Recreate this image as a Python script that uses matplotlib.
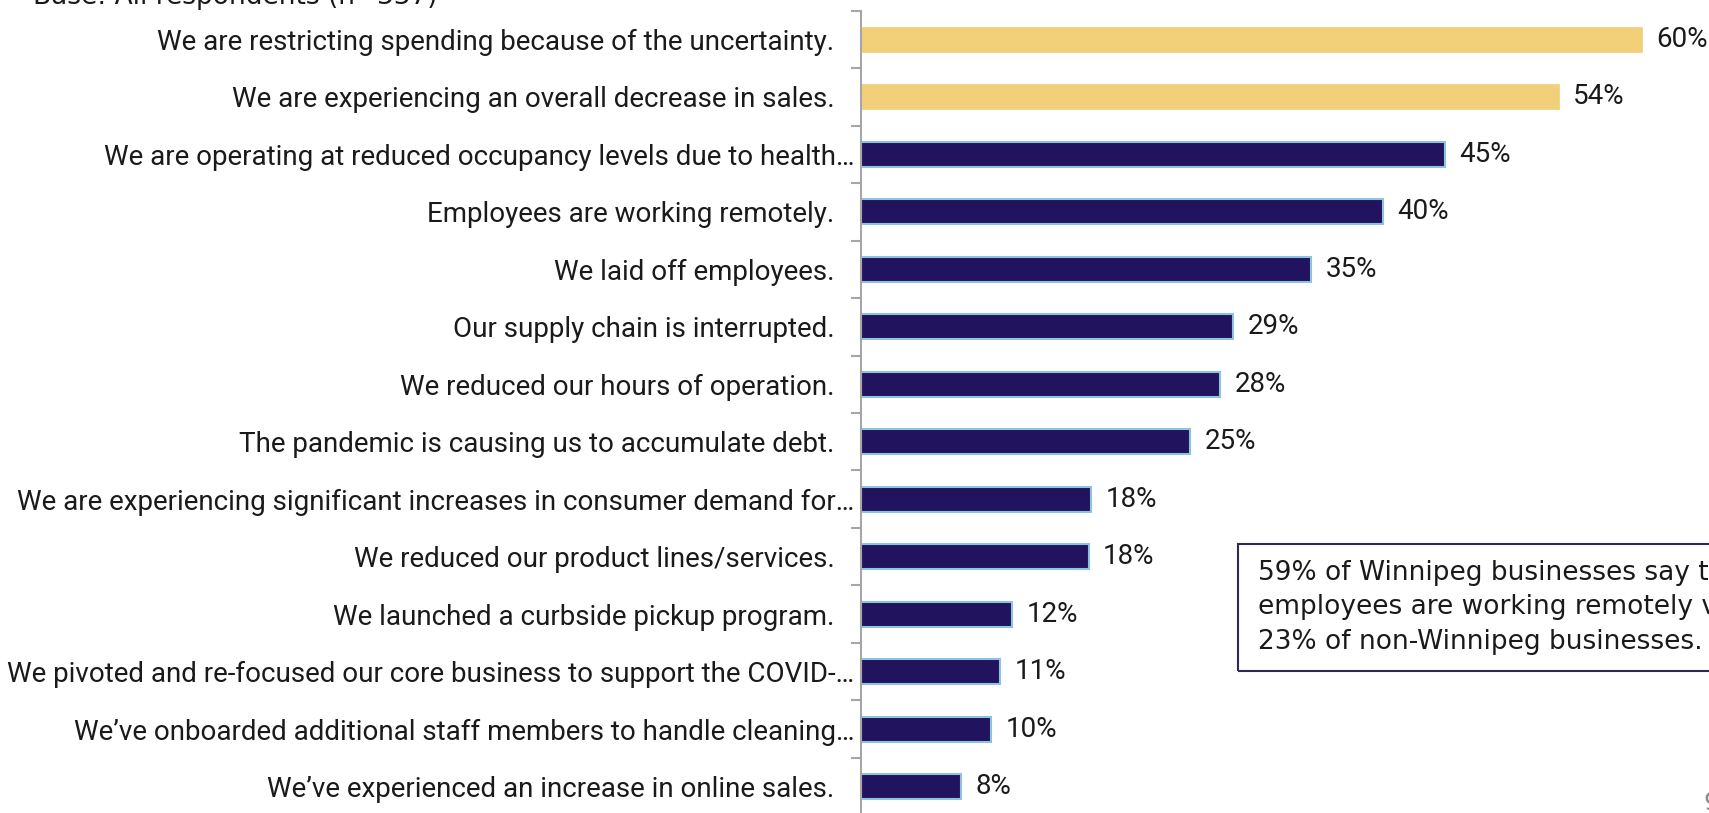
import matplotlib.pyplot as plt
from matplotlib.patches import Rectangle

# Data
labels = [
    'We are restricting spending because of the uncertainty.',
    'We are experiencing an overall decrease in sales.',
    'We are operating at reduced occupancy levels due to health…',
    'Employees are working remotely.',
    'We laid off employees.',
    'Our supply chain is interrupted.',
    'We reduced our hours of operation.',
    'The pandemic is causing us to accumulate debt.',
    'We are experiencing significant increases in consumer demand for…',
    'We reduced our product lines/services.',
    'We launched a curbside pickup program.',
    'We pivoted and re-focused our core business to support the COVID-…',
    'We’ve onboarded additional staff members to handle cleaning…',
    'We’ve experienced an increase in online sales.',
]
values = [60.0, 53.6, 44.9, 40.1, 34.6, 28.6, 27.6, 25.3, 17.7, 17.5, 11.6, 10.7, 10.0, 7.7]
highlight = [True, True] + [False] * 12
note_lines = ['59% of Winnipeg businesses say their',
              'employees are working remotely vs.',
              '23% of non-Winnipeg businesses.']

label_font = ['Roboto', 'DejaVu Sans']
note_font = ['DejaVu Sans']

fig = plt.figure(figsize=(17.09, 8.13), dpi=100)
ax = fig.add_axes([0.5038, -0.003, 0.495, 0.99])

ypos = list(range(len(values)))
for y, v, h in zip(ypos, values, highlight):
    if h:
        ax.barh(y, v, height=0.43, color='#F2D07A', edgecolor='#F2D07A', linewidth=0.5)
    else:
        ax.barh(y, v, height=0.43, color='#22135E', edgecolor='#8EC3E0', linewidth=1.5)
    ax.text(v + 1.1, y, '{:.0f}%'.format(v), va='center', ha='left',
            fontsize=20, family=label_font, color='#1a1a1a')

ax.set_xlim(0, 65)
ax.set_ylim(len(values) - 0.5, -0.5)

# Category labels as major ticks (no marks), boundaries as minor ticks
ax.set_yticks(ypos)
ax.set_yticklabels(labels, fontsize=20, family=label_font, color='#1a1a1a')
ax.set_yticks([i - 0.5 for i in range(len(values) + 1)], minor=True)
ax.tick_params(axis='y', which='major', length=0)
ax.tick_params(axis='y', which='minor', length=7, width=1.5, color='#A6A6A6')
for lab, t in zip(labels, ax.yaxis.get_major_ticks()):
    t.set_pad(5 if lab.endswith('…') else 19)

ax.set_xticks([])
for s in ['top', 'right', 'bottom']:
    ax.spines[s].set_visible(False)
ax.spines['left'].set_color('#A6A6A6')
ax.spines['left'].set_linewidth(1.5)

# Base text (cut off at top)
fig.text(0.0195, 1.0 - 4 / 813, 'Base: All respondents (n=337)', fontsize=19,
         family=note_font, color='#1a1a1a', va='baseline', ha='left')

# Note box
fig.add_artist(Rectangle((1238 / 1709, 142 / 813), 600 / 1709, 127 / 813,
                         transform=fig.transFigure, fill=False,
                         edgecolor='#2D2B55', linewidth=1.5))
for i, line in enumerate(note_lines):
    fig.text(1258 / 1709, (813 - 573 - 34.5 * i) / 813, line,
             fontsize=19, family=note_font, color='#1a1a1a', va='center', ha='left')

# Page number
fig.text(1703 / 1709, (813 - 803) / 813, '9', fontsize=18, family=note_font,
         color='#8c8c8c', va='center', ha='left')

plt.savefig('out.png', dpi=100)
